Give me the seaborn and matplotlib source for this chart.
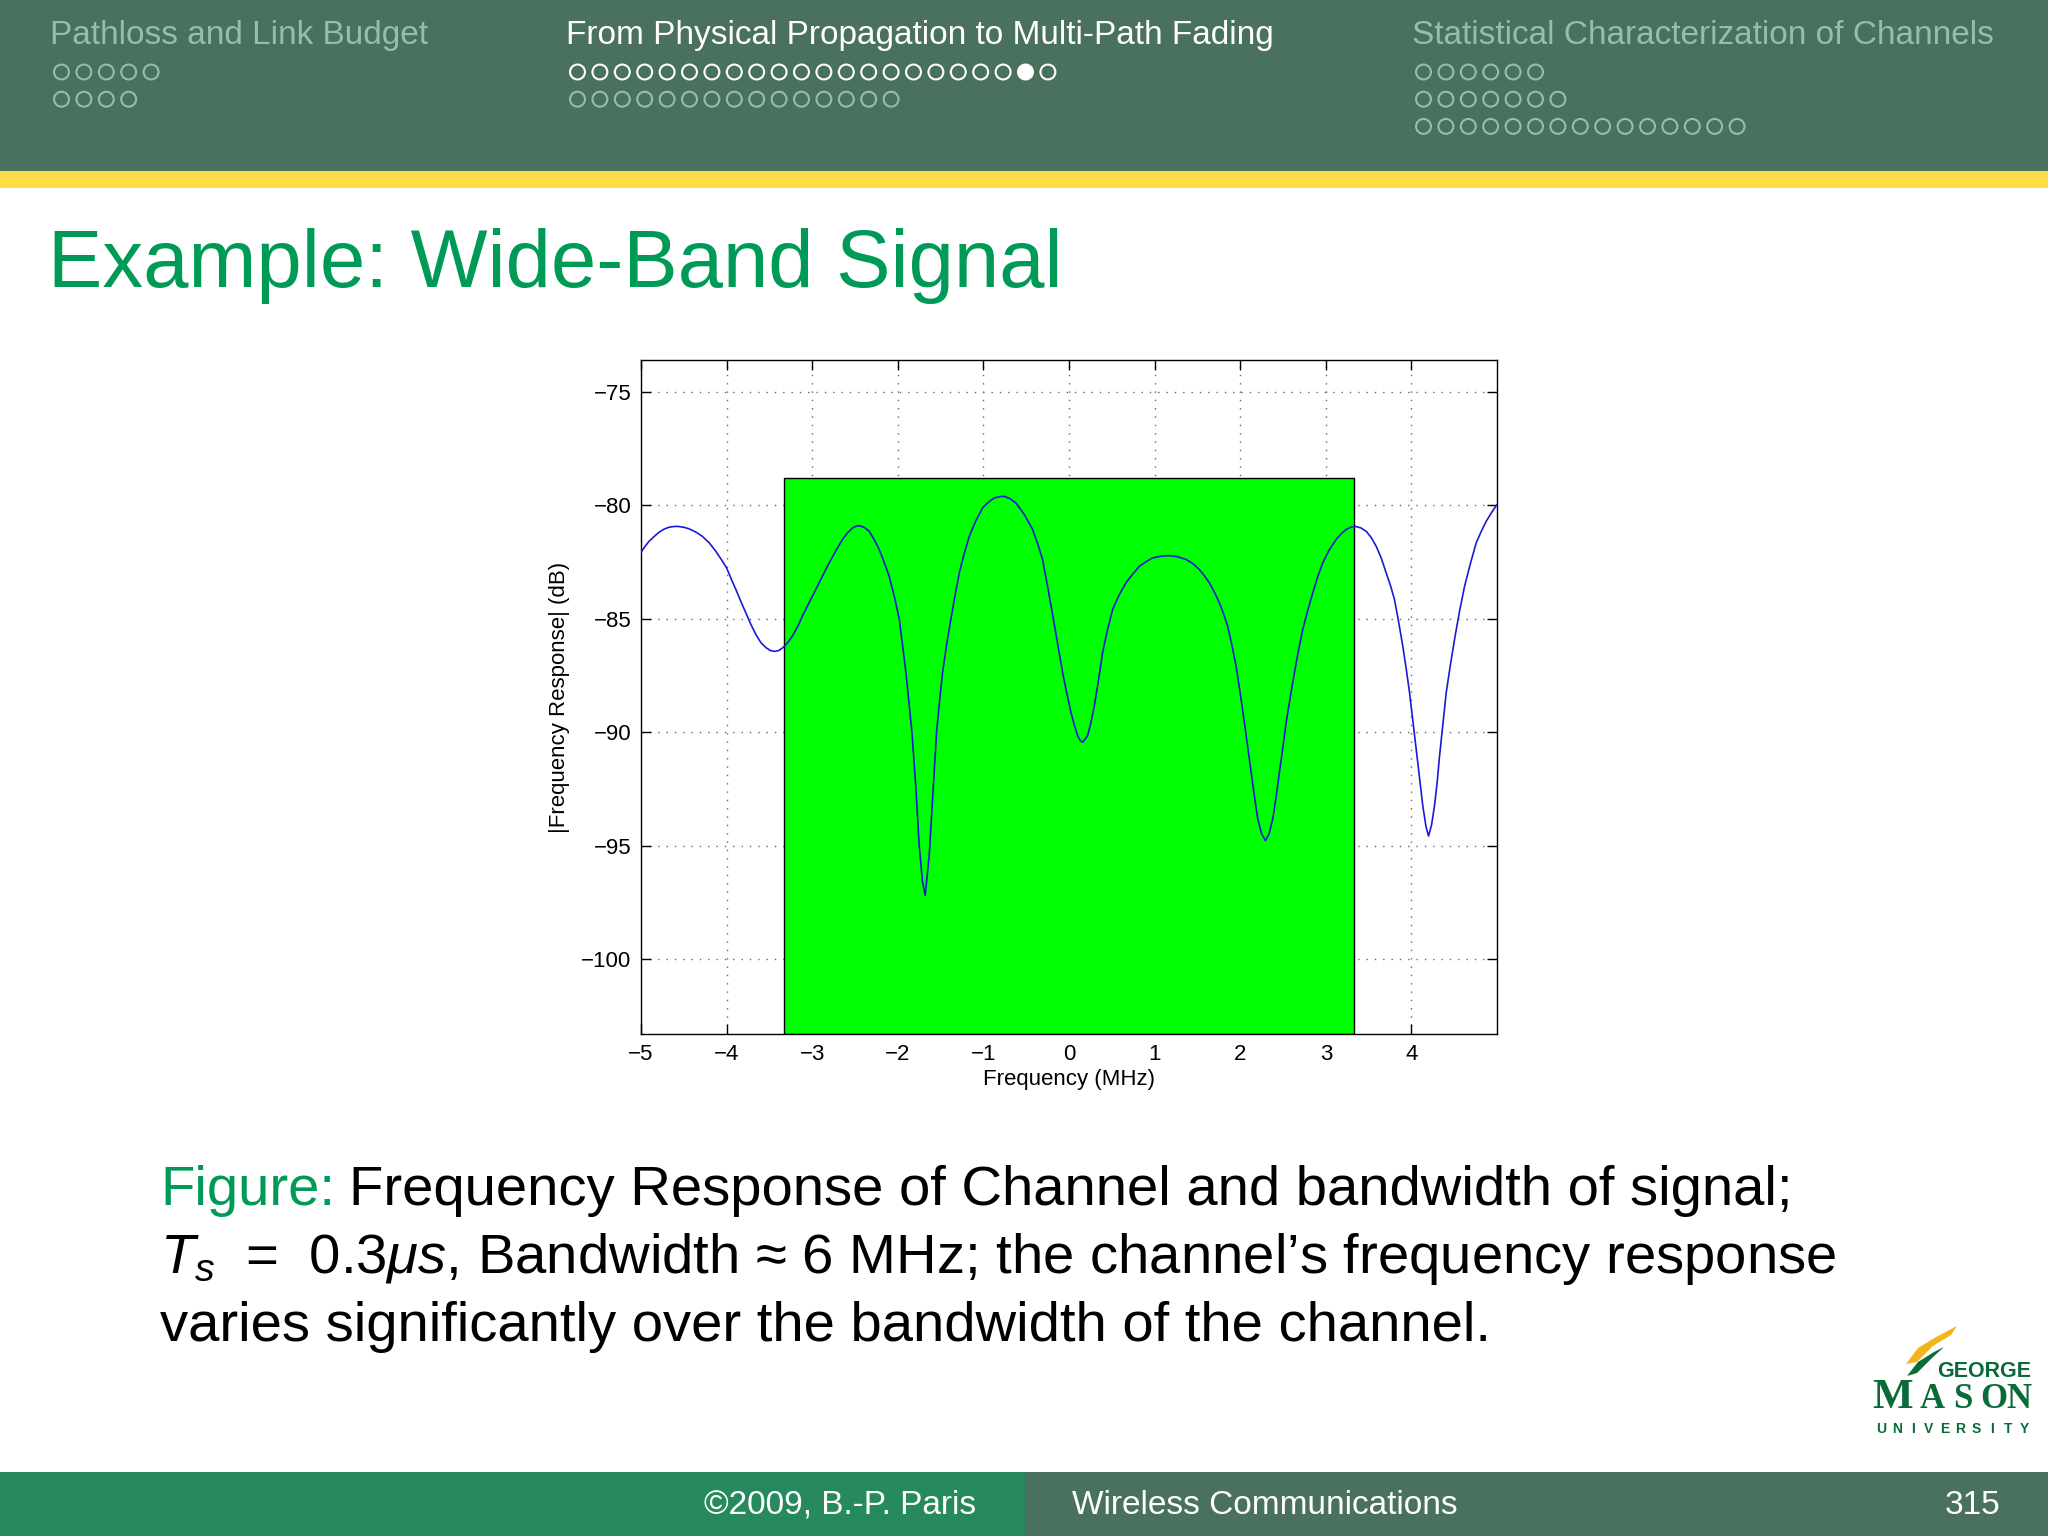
import matplotlib
matplotlib.use("Agg")
import matplotlib.pyplot as plt
from matplotlib.patches import Rectangle, Polygon
import numpy as np
import seaborn as sns

# Seaborn white style, then fonts (set_style resets font.family)
sns.set_style("white")
plt.rcParams['font.family'] = ['Liberation Sans', 'DejaVu Sans']
plt.rcParams['mathtext.fontset'] = 'custom'
plt.rcParams['mathtext.rm'] = 'Liberation Sans'
plt.rcParams['mathtext.it'] = 'Liberation Sans:italic'

# --- channel frequency response ---
freq_mhz = [
    -5.000, -4.950, -4.906, -4.850, -4.789, -4.730, -4.672, -4.620, -4.575, -4.500,
    -4.438, -4.360, -4.283, -4.200, -4.126, -4.060, -4.000, -3.940, -3.892, -3.830,
    -3.776, -3.720, -3.659, -3.600, -3.542, -3.490, -3.437, -3.390, -3.340, -3.285,
    -3.231, -3.170, -3.114, -3.035, -2.957, -2.880, -2.802, -2.720, -2.646, -2.590,
    -2.529, -2.490, -2.451, -2.390, -2.334, -2.275, -2.217, -2.160, -2.101, -2.040,
    -1.984, -1.945, -1.905, -1.870, -1.835, -1.788, -1.750, -1.711, -1.680, -1.633,
    -1.594, -1.547, -1.510, -1.477, -1.430, -1.379, -1.330, -1.282, -1.225, -1.165,
    -1.090, -1.010, -0.940, -0.873, -0.810, -0.756, -0.690, -0.620, -0.520, -0.425,
    -0.365, -0.309, -0.245, -0.183, -0.130, -0.075, -0.025, 0.023, 0.065, 0.101,
    0.130, 0.159, 0.217, 0.255, 0.296, 0.345, 0.393, 0.450, 0.510, 0.585,
    0.666, 0.745, 0.822, 0.900, 0.977, 1.070, 1.172, 1.270, 1.368, 1.450,
    1.523, 1.580, 1.640, 1.700, 1.757, 1.805, 1.854, 1.905, 1.952, 2.000,
    2.049, 2.090, 2.127, 2.165, 2.205, 2.250, 2.295, 2.340, 2.380, 2.420,
    2.458, 2.500, 2.537, 2.585, 2.634, 2.680, 2.731, 2.790, 2.848, 2.905,
    2.964, 3.040, 3.121, 3.180, 3.238, 3.290, 3.343, 3.410, 3.472, 3.530,
    3.589, 3.650, 3.705, 3.755, 3.802, 3.850, 3.899, 3.940, 3.978, 4.017,
    4.056, 4.095, 4.133, 4.170, 4.200, 4.235, 4.270, 4.300, 4.329, 4.370,
    4.407, 4.455, 4.504, 4.560, 4.621, 4.690, 4.757, 4.815, 4.874, 4.935,
    4.998,
]
resp_db = [
    -82.07, -81.80, -81.59, -81.39, -81.19, -81.05, -80.97, -80.94, -80.93, -80.97,
    -81.04, -81.18, -81.37, -81.67, -82.03, -82.40, -82.76, -83.30, -83.71, -84.27,
    -84.74, -85.22, -85.69, -86.05, -86.27, -86.40, -86.44, -86.40, -86.27, -86.05,
    -85.76, -85.35, -84.88, -84.29, -83.71, -83.13, -82.54, -81.98, -81.51, -81.23,
    -81.00, -80.93, -80.90, -80.98, -81.15, -81.52, -81.95, -82.50, -83.13, -84.02,
    -85.00, -86.15, -87.37, -88.68, -90.00, -92.50, -95.00, -96.60, -97.19, -95.43,
    -92.94, -90.00, -88.55, -87.37, -86.15, -85.00, -83.95, -82.98, -82.15, -81.37,
    -80.70, -80.12, -79.86, -79.68, -79.62, -79.61, -79.71, -79.90, -80.42, -81.07,
    -81.70, -82.39, -83.68, -85.00, -86.16, -87.37, -88.30, -89.13, -89.72, -90.16,
    -90.36, -90.45, -90.16, -89.60, -88.84, -87.70, -86.49, -85.48, -84.59, -83.96,
    -83.42, -83.03, -82.69, -82.49, -82.32, -82.25, -82.22, -82.27, -82.39, -82.58,
    -82.83, -83.10, -83.42, -83.84, -84.30, -84.78, -85.33, -86.20, -87.08, -88.28,
    -89.57, -90.72, -91.77, -92.80, -93.82, -94.48, -94.78, -94.45, -93.82, -92.85,
    -91.77, -90.62, -89.57, -88.45, -87.37, -86.42, -85.47, -84.62, -83.86, -83.16,
    -82.54, -81.97, -81.51, -81.26, -81.07, -80.97, -80.93, -81.00, -81.15, -81.42,
    -81.81, -82.35, -82.98, -83.53, -84.15, -85.12, -86.20, -87.22, -88.25, -89.48,
    -90.75, -92.00, -93.24, -94.15, -94.58, -94.10, -93.24, -92.25, -91.04, -89.55,
    -88.25, -87.05, -85.91, -84.72, -83.57, -82.56, -81.66, -81.16, -80.71, -80.33,
    -79.98,
]
assert len(freq_mhz) == len(resp_db)

# signal band (1/Ts with Ts = 0.3 us)
band_edges_mhz = [-3.333, 3.333]
band_level_db = -78.8

x_ticks = [-5, -4, -3, -2, -1, 0, 1, 2, 3, 4]
y_ticks = [-100, -95, -90, -85, -80, -75]
x_limits = (-5, 5)
y_limits = (-103.3, -73.6)

# slide header navigation
section_titles = ["Pathloss and Link Budget",
                  "From Physical Propagation to Multi-Path Fading",
                  "Statistical Characterization of Channels"]
section_dots = [[5, 4], [22, 15], [6, 7, 15]]
current_section = 1
current_dot = 20

caption_lines = [
    "Frequency Response of Channel and bandwidth of signal;",
    r"$T_s\;\,=\;\,0.3\mu s$, Bandwidth ≈ 6 MHz; the channel’s frequency response",
    "varies significantly over the bandwidth of the channel.",
]

header_green = '#4A705E'
footer_green = '#278A5E'
pale = '#96BEA8'
title_green = '#009A57'
logo_green = '#0B6B38'
logo_gold = '#F2B51C'

fig = plt.figure(figsize=(20.48, 15.36), dpi=100)

# background layer in pixel coordinates
bg = fig.add_axes([0, 0, 1, 1])
bg.set_xlim(0, 2048)
bg.set_ylim(1536, 0)
bg.axis('off')

# header bar + yellow stripe
bg.add_patch(Rectangle((0, 0), 2048, 171, fc=header_green, ec='none'))
bg.add_patch(Rectangle((0, 171), 2048, 17, fc='#FDDC46', ec='none'))

section_x = [50, 566, 1412]
for i, (title, rows) in enumerate(zip(section_titles, section_dots)):
    active = (i == current_section)
    bg.text(section_x[i], 44, title, fontsize=24, va='baseline',
            color='white' if active else pale)
    for r, n in enumerate(rows):
        xs = section_x[i] + 11.5 + 22.4 * np.arange(n)
        ys = np.full(n, 72 + 27.2 * r)
        col = 'white' if (active and r == 0) else pale
        fc = ['none'] * n
        if active and r == 0:
            fc[current_dot] = col
        bg.scatter(xs, ys, s=115, facecolors=fc, edgecolors=col, linewidths=1.5)

# slide title
bg.text(48, 287, "Example: Wide-Band Signal", fontsize=58.7, color=title_green,
        va='baseline')

# footer
bg.add_patch(Rectangle((0, 1472), 1025, 64, fc=footer_green, ec='none'))
bg.add_patch(Rectangle((1025, 1472), 1023, 64, fc=header_green, ec='none'))
bg.text(976, 1505, "©2009, B.-P. Paris", fontsize=24, color='white', ha='right', va='center')
bg.text(1072, 1505, "Wireless Communications", fontsize=24, color='white', ha='left', va='center')
bg.text(2000, 1505, "315", fontsize=24, color='white', ha='right', va='center')

# caption
t_fig = bg.text(160, 1205, "Figure:", fontsize=40.5, color=title_green, va='baseline')
fig.canvas.draw()
x_after = t_fig.get_window_extent().x1
bg.text(x_after + 14, 1205, caption_lines[0], fontsize=40.5, color='black', va='baseline')
bg.text(160, 1273, caption_lines[1], fontsize=40.5, color='black', va='baseline')
bg.text(160, 1341, caption_lines[2], fontsize=40.5, color='black', va='baseline')

# university logo
bg.add_patch(Polygon([(1906, 1364), (1918, 1348), (1936, 1337), (1957, 1326),
                      (1951, 1335), (1933, 1346), (1917, 1362)],
                     closed=True, fc=logo_gold, ec='none'))
bg.add_patch(Polygon([(1907, 1376), (1918, 1362), (1934, 1352), (1944, 1347),
                      (1933, 1357), (1917, 1373)],
                     closed=True, fc=logo_green, ec='none'))
bg.text(1872, 1408, "M", fontfamily='Liberation Serif', fontweight='bold',
        fontsize=31, color=logo_green, va='baseline')
for xl, ch in zip([1932, 1963, 1994, 2019], "ASON"):
    bg.text(xl, 1408, ch, fontfamily='Liberation Serif', fontweight='bold',
            fontsize=25, color=logo_green, ha='center', va='baseline')
bg.text(1984, 1377, "GEORGE", fontweight='bold', fontsize=15.5,
        color=logo_green, ha='center', va='baseline')
for xl, ch in zip(np.linspace(1881, 2024, 10), "UNIVERSITY"):
    bg.text(xl, 1433, ch, fontweight='bold', fontsize=10, color=logo_green,
            ha='center', va='baseline')

# --- the chart ---
ax = fig.add_axes([641 / 2048, 1 - 1034 / 1536, 856 / 2048, 674 / 1536])
ax.set_zorder(2)
ax.set_facecolor('white')

ax.fill_between(band_edges_mhz, band_level_db, y_limits[0],
                facecolor='#00FF00', edgecolor='black', linewidth=1.0, zorder=2)
sns.lineplot(x=freq_mhz, y=resp_db, ax=ax, color='#1A1AD6', linewidth=1.2, zorder=3)

ax.set_xlim(*x_limits)
ax.set_ylim(*y_limits)
ax.set_xticks(x_ticks)
ax.set_yticks(y_ticks)
ax.grid(True, linestyle=(0, (1, 5)), color='#666666', linewidth=1.0)
ax.set_axisbelow(True)
ax.tick_params(direction='in', top=True, right=True, bottom=True, left=True,
               length=7, width=1, colors='black', labelsize=16, pad=7)
for s in ax.spines.values():
    s.set_visible(True)
    s.set_color('black')
    s.set_linewidth(1.0)
ax.set_xlabel("Frequency (MHz)", fontsize=16, color='black', labelpad=3)
ax.set_ylabel("|Frequency Response| (dB)", fontsize=16, color='black', labelpad=8)

fig.savefig("out.png", dpi=100)
